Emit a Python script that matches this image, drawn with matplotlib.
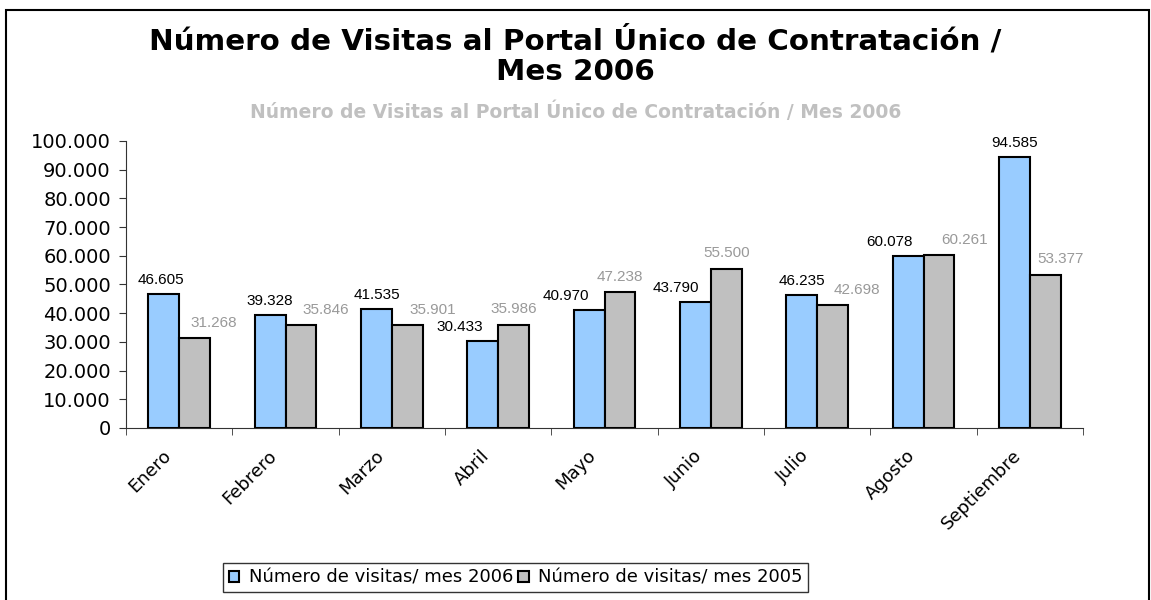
import matplotlib.pyplot as plt
import matplotlib.transforms as mtransforms
import numpy as np
from matplotlib.patches import Rectangle

meses = ['Enero', 'Febrero', 'Marzo', 'Abril', 'Mayo', 'Junio', 'Julio', 'Agosto', 'Septiembre']
visitas_2006 = [46605, 39328, 41535, 30433, 40970, 43790, 46235, 60078, 94585]
visitas_2005 = [31268, 35846, 35901, 35986, 47238, 55500, 42698, 60261, 53377]

# desplazamiento horizontal (px) de cada etiqueta, como lo dejó Excel
dx_2006 = [-3, 0, 0, -23, -23, -20, 0, -19, 0]
dx_2005 = [19, 25, 25, 0, 0, 0, 24, 26, 15]

def fmt(v):
    return f"{v:,}".replace(",", ".")

fig = plt.figure(figsize=(11.51, 6.0), dpi=100)
ax = fig.add_axes([0.1095, 0.2867, 0.8315, 0.4783])

x = np.arange(len(meses))
w = 0.29
b1 = ax.bar(x - w / 2, visitas_2006, width=w, color='#99CCFF', edgecolor='black', linewidth=1.5,
            label='Número de visitas/ mes 2006', zorder=3)
b2 = ax.bar(x + w / 2, visitas_2005, width=w, color='#C0C0C0', edgecolor='black', linewidth=1.5,
            label='Número de visitas/ mes 2005', zorder=3)

for rect, v, dx in zip(b1, visitas_2006, dx_2006):
    ax.annotate(fmt(v), (rect.get_x() + rect.get_width() / 2, v), xytext=(dx * 0.72, 5),
                textcoords='offset points', ha='center', va='bottom', fontsize=11,
                family='Liberation Sans', color='black')
for rect, v, dx in zip(b2, visitas_2005, dx_2005):
    ax.annotate(fmt(v), (rect.get_x() + rect.get_width() / 2, v), xytext=(dx * 0.72, 6),
                textcoords='offset points', ha='center', va='bottom', fontsize=11,
                family='Liberation Sans', color='#999999')

ax.set_xlim(-0.5, len(meses) - 0.5)
ax.set_ylim(0, 100000)
ax.set_yticks(np.arange(0, 100001, 10000))
ax.set_yticklabels([fmt(t) for t in range(0, 100001, 10000)], fontsize=14)
ax.set_xticks(x)
ax.set_xticklabels(meses, rotation=45, ha='right', va='center', rotation_mode='anchor', fontsize=13)
ax.set_xticks(np.arange(-0.5, len(meses)), minor=True)
ax.tick_params(axis='x', which='major', length=0, pad=18)
ax.tick_params(axis='x', which='minor', length=5, color='#333333')
ax.tick_params(axis='y', length=5, color='#333333', pad=6)
shift = mtransforms.ScaledTranslation(-8 / 72, 0, fig.dpi_scale_trans)
for lbl in ax.get_xticklabels():
    lbl.set_transform(lbl.get_transform() + shift)
for s in ['top', 'right']:
    ax.spines[s].set_visible(False)
for s in ['left', 'bottom']:
    ax.spines[s].set_color('#333333')

fig.text(0.5, 0.907, 'Número de Visitas al Portal Único de Contratación /\nMes 2006', ha='center', va='center',
         fontsize=21.2, fontweight='bold', linespacing=1.13)
fig.text(0.5, 0.813, 'Número de Visitas al Portal Único de Contratación / Mes 2006', ha='center', va='center',
         fontsize=13.5, fontweight='bold', color='#C0C0C0')

leg = fig.legend(loc='center', bbox_to_anchor=(0.448, 0.037), ncol=2, fontsize=13, frameon=True,
                 fancybox=False, edgecolor='black', handlelength=0.6, handleheight=0.6,
                 handletextpad=0.5, columnspacing=0.3, borderpad=0.3)
leg.get_frame().set_linewidth(1.0)

fig.patches.append(Rectangle((0.005, -0.02), 0.993, 1.003, transform=fig.transFigure, fill=False,
                             edgecolor='black', linewidth=1.5))

fig.savefig('out.png', dpi=100)
